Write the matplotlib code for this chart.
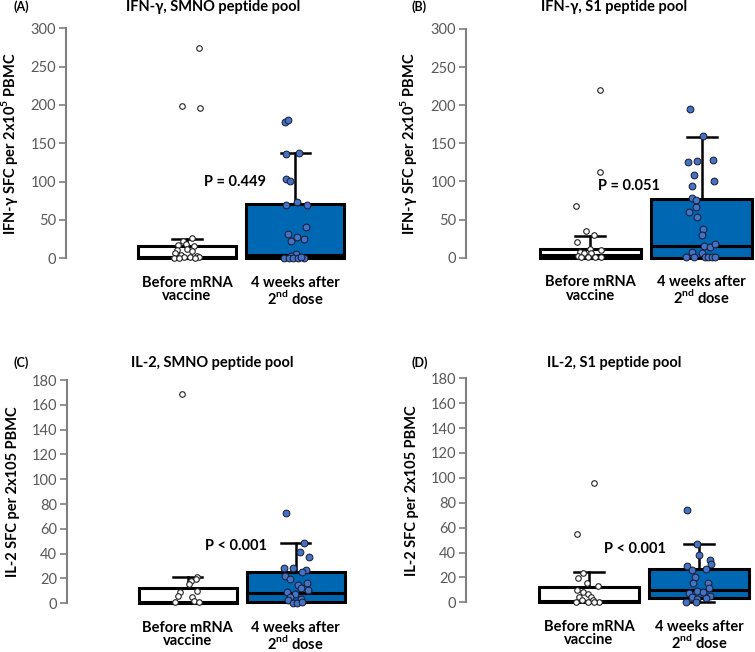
import matplotlib
matplotlib.use("Agg")
import matplotlib.pyplot as plt

plt.rcParams['font.family'] = ['Lato', 'DejaVu Sans']
plt.rcParams['mathtext.fontset'] = 'custom'
plt.rcParams['mathtext.rm'] = 'Lato'
plt.rcParams['mathtext.bf'] = 'Lato:bold'

groups = ["Before mRNA\nvaccine", "4 weeks after\n2$^{\\mathbf{nd}}$ dose"]

# ---------- Panel A: IFN-g, SMNO ----------
a_before = [274, 199, 196, 26, 23, 17, 19, 16, 11, 12, 9, 6.5, 4.3, 1.3, 1.3, 3, 0.8, 1.3, 0.5, 0.5]
a_before_dx = [0.11, -0.05, 0.12, 0.05, -0.04, -0.08, -0.01, 0.06, -0.09, 0.0, 0.05, -0.11, -0.06, -0.03, 0.03, 0.09, -0.12, 0.11, -0.07, 0.07]
a_after = [178, 181, 136, 138, 103, 101, 70, 74, 70, 41, 32, 28, 23, 25, 6, 3, 1, 1, 1, 1, 1, 2]
a_after_dx = [-0.09, -0.07, -0.08, 0.04, -0.08, -0.05, -0.08, 0.02, 0.11, 0.10, -0.07, 0.02, -0.04, 0.08, 0.01, -0.04, -0.10, -0.06, -0.02, 0.03, 0.08, 0.05]
a_q1 = [0, 0]; a_med = [2, 4]; a_q3 = [16, 71]; a_lo = [0, 0]; a_hi = [25, 138]

# ---------- Panel B: IFN-g, S1 ----------
b_before = [220, 113, 68, 35, 30, 21, 12, 10, 7, 6, 6, 2, 0.5, 0.5, 0.5, 0.5]
b_before_dx = [0.09, 0.09, -0.13, -0.04, 0.03, -0.12, 0.0, 0.10, -0.09, -0.06, 0.01, -0.11, -0.08, -0.02, 0.04, 0.10]
b_after = [195, 159, 126, 127, 128, 108, 101, 94, 78, 76, 67, 60, 54, 37, 30, 15, 14, 18, 7, 5.7, 0.5, 0.5, 0.5, 0.5, 0.5, 0.5]
b_after_dx = [-0.10, 0.01, -0.12, -0.04, 0.10, -0.07, 0.11, -0.09, -0.09, -0.05, -0.05, -0.11, -0.04, 0.01, 0.0, 0.02, 0.08, 0.12, -0.09, 0.0, -0.14, -0.07, 0.03, 0.06, 0.09, 0.12]
b_q1 = [0, 0]; b_med = [3.5, 15]; b_q3 = [12, 77]; b_lo = [0, 0]; b_hi = [29, 158]

# ---------- Panel C: IL-2, SMNO ----------
c_before = [169, 21.5, 19.3, 18.2, 15.6, 10.2, 8.8, 5.9, 5.4, 1.9, 1.3, 1.3]
c_before_dx = [-0.05, 0.09, 0.08, 0.03, 0.01, 0.09, -0.07, -0.09, 0.04, 0.06, -0.12, 0.10]
c_after = [73, 49, 41.6, 37, 28.7, 28.7, 27, 25, 22, 19.3, 16.7, 14.8, 12.6, 10.7, 9.4, 7.5, 5.4, 3.2, 2.7, 0.5, 0.5, 1.3]
c_after_dx = [-0.09, 0.08, 0.04, 0.12, -0.11, -0.03, 0.09, 0.06, -0.10, -0.05, 0.10, 0.02, 0.05, 0.11, -0.08, -0.01, -0.05, 0.05, -0.07, -0.03, 0.01, 0.06]
c_q1 = [0, 1]; c_med = [1.3, 8.6]; c_q3 = [12, 25]; c_lo = [0, 1]; c_hi = [21, 49]

# ---------- Panel D: IL-2, S1 ----------
d_before = [96, 55, 23.8, 19.3, 15.2, 13.1, 9.9, 8.5, 6.7, 4.5, 4.5, 1.9, 1.9, 0.5, 0.5, 0.5, 0.5]
d_before_dx = [0.05, -0.11, -0.05, -0.10, -0.02, 0.08, -0.11, -0.05, -0.01, -0.09, 0.02, -0.06, 0.04, -0.12, 0.09, -0.01, 0.05]
d_after = [74, 46.6, 38, 34, 30.5, 29, 26, 26.5, 20.6, 15.3, 15.8, 11.8, 9.4, 8.6, 5, 7.2, 4.6, 2.4, 0, 0, 3.2]
d_after_dx = [-0.11, -0.02, 0.0, 0.10, 0.11, -0.11, -0.06, 0.06, -0.04, 0.08, -0.05, 0.09, -0.02, 0.04, 0.10, -0.09, -0.06, -0.02, -0.12, -0.03, 0.06]
d_q1 = [0, 3.2]; d_med = [1.3, 10]; d_q3 = [12.6, 27]; d_lo = [0, 0]; d_hi = [24.6, 47]

W, H = 755, 652
fig = plt.figure(figsize=(W / 100, H / 100), dpi=100)

BOX_BLUE = '#0067B2'
PT_BLUE = '#4472C4'
GRAY = '#595959'


def add_ax(left, bottom, right, top):
    return fig.add_axes([left / W, 1 - bottom / H, (right - left) / W, (bottom - top) / H])


def panel(ax, before, bdx, after, adx, q1, med, q3, lo, hi, ymax, ystep, ylabel, ptxt, pxy):
    stats = []
    for i in range(2):
        stats.append(dict(q1=q1[i], med=med[i], q3=q3[i], whislo=lo[i], whishi=hi[i], fliers=[]))
    bp = ax.bxp(stats, positions=[1, 2], widths=0.91, capwidths=0.27, patch_artist=True,
                showfliers=False, manage_ticks=False,
                boxprops=dict(linewidth=2.2, edgecolor='black'),
                medianprops=dict(color='black', linewidth=2.2),
                whiskerprops=dict(color='black', linewidth=1.8),
                capprops=dict(color='black', linewidth=1.8))
    bp['boxes'][0].set_facecolor('white')
    bp['boxes'][1].set_facecolor(BOX_BLUE)
    for art in bp['boxes'] + bp['medians'] + bp['whiskers'] + bp['caps']:
        art.set_clip_on(False)
    ax.scatter([1 + d for d in bdx], before, s=16, facecolor='white', edgecolor='#222222',
               linewidth=0.8, zorder=5, clip_on=False)
    ax.scatter([2 + d for d in adx], after, s=24, facecolor=PT_BLUE, edgecolor='#1a1a2e',
               linewidth=0.7, zorder=5, clip_on=False)
    ax.set_xlim(-0.12, 2.48)
    ax.set_ylim(0, ymax)
    ax.set_yticks(range(0, ymax + 1, ystep))
    ax.tick_params(axis='y', colors='#7f7f7f', labelcolor=GRAY, labelsize=10.5, length=5, width=1.2, pad=2)
    ax.tick_params(axis='x', bottom=False, labelbottom=False)
    for s in ['top', 'right', 'bottom']:
        ax.spines[s].set_visible(False)
    ax.spines['left'].set_color('#7f7f7f')
    ax.spines['left'].set_linewidth(1.5)
    ax.set_ylabel(ylabel, fontsize=10.5, fontweight='bold', labelpad=8)
    for i, g in enumerate(groups):
        ax.annotate(g, xy=(i + 1, 0), xycoords=('data', 'axes fraction'), xytext=(0, -12.5),
                    textcoords='offset points', ha='center', va='top', fontsize=10.5,
                    fontweight='bold', linespacing=0.95)
    ax.text(pxy[0], pxy[1], ptxt, ha='center', va='center', fontsize=10.5, fontweight='bold', zorder=6)


ifn_label = "IFN-γ SFC per 2x10$^{\\mathbf{5}}$ PBMC"
il2_label = "IL-2 SFC per 2x105 PBMC"

axA = add_ax(66, 258.3, 347, 28.3)
panel(axA, a_before, a_before_dx, a_after, a_after_dx, a_q1, a_med, a_q3, a_lo, a_hi,
      300, 50, ifn_label, "P = 0.449", (1.445, 100))
axB = add_ax(465.7, 257.7, 755, 29)
panel(axB, b_before, b_before_dx, b_after, b_after_dx, b_q1, b_med, b_q3, b_lo, b_hi,
      300, 50, ifn_label, "P = 0.051", (1.35, 94.5))
axC = add_ax(66.7, 603.3, 347.7, 380)
panel(axC, c_before, c_before_dx, c_after, c_after_dx, c_q1, c_med, c_q3, c_lo, c_hi,
      180, 20, il2_label, "P < 0.001", (1.445, 46.5))
axD = add_ax(465.7, 602.3, 751.7, 378.3)
panel(axD, d_before, d_before_dx, d_after, d_after_dx, d_q1, d_med, d_q3, d_lo, d_hi,
      180, 20, il2_label, "P < 0.001", (1.42, 42.6))

titles = [("(A)", 21.5, 7, "IFN-γ, SMNO peptide pool", 212.7, 7),
          ("(B)", 419.5, 7, "IFN-γ, S1 peptide pool", 614, 7),
          ("(C)", 21.5, 363, "IL-2, SMNO peptide pool", 212.7, 363),
          ("(D)", 419.5, 363, "IL-2, S1 peptide pool", 614, 363)]
for lab, lx, ly, t, tx, ty in titles:
    fig.text(lx / W, 1 - ly / H, lab, ha='center', va='center', fontsize=9, fontweight='bold')
    fig.text(tx / W, 1 - ty / H, t, ha='center', va='center', fontsize=10.5, fontweight='bold')

fig.savefig("out.png", dpi=100)
